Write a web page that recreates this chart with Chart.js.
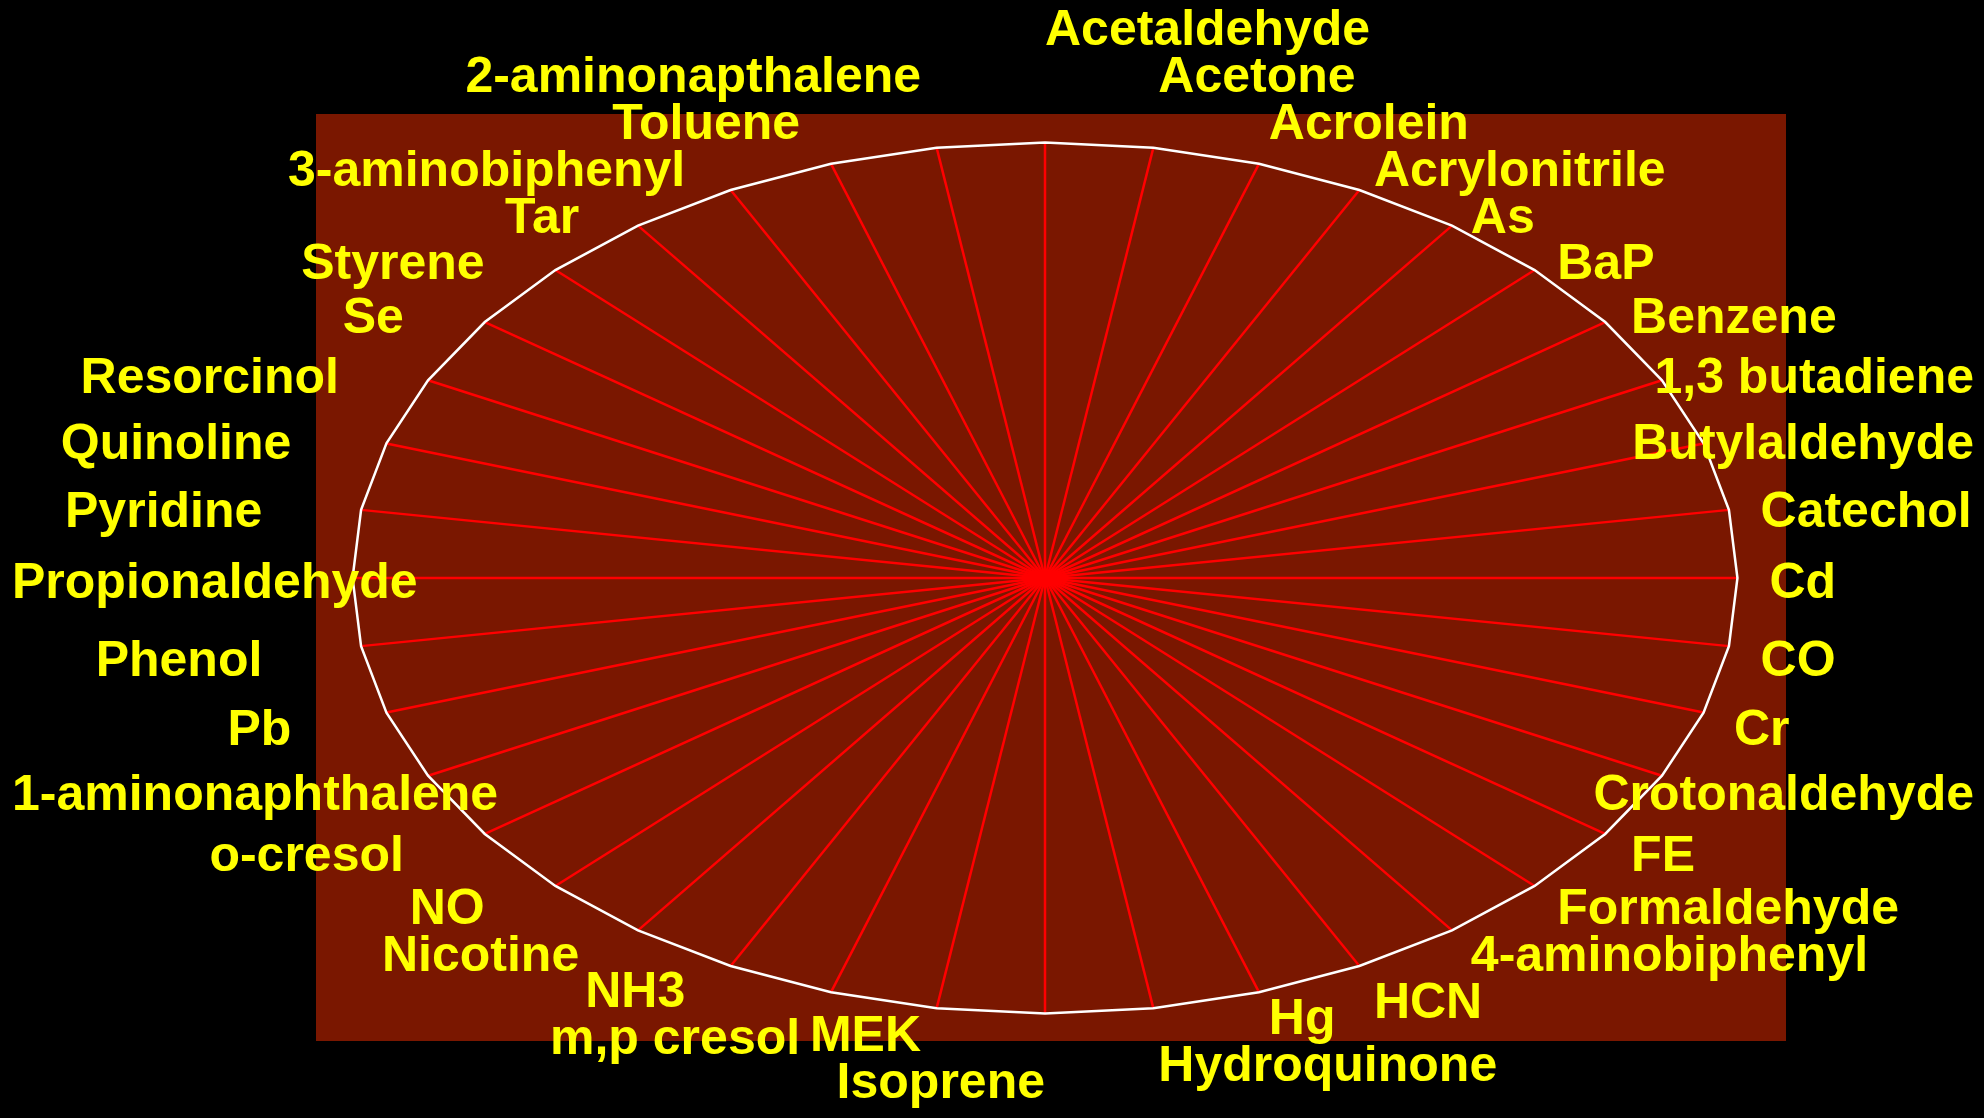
<!DOCTYPE html>
<html>
<head>
<meta charset="utf-8">
<script src="https://cdn.jsdelivr.net/npm/chart.js@4/dist/chart.umd.min.js"></script>
<style>
  html, body { margin: 0; padding: 0; background: #000; }
  canvas { display: block; }
</style>
</head>
<body>
<canvas id="radarChart" width="1984" height="1118"></canvas>
<script>
// Categories, clockwise from the top
var compounds = [
    "Acetaldehyde", "Acetone", "Acrolein", "Acrylonitrile", "As", "BaP", "Benzene",
    "1,3 butadiene", "Butylaldehyde", "Catechol", "Cd", "CO", "Cr", "Crotonaldehyde",
    "FE", "Formaldehyde", "4-aminobiphenyl", "HCN", "Hg", "Hydroquinone", "Isoprene",
    "MEK", "m,p cresol", "NH3", "Nicotine", "NO", "o-cresol", "1-aminonaphthalene",
    "Pb", "Phenol", "Propionaldehyde", "Pyridine", "Quinoline", "Resorcinol", "Se",
    "Styrene", "Tar", "3-aminobiphenyl", "Toluene", "2-aminonapthalene"
];

// Series: every compound sits on the outer ring
var levels = [
    1, 1, 1, 1, 1, 1, 1, 1, 1, 1,
    1, 1, 1, 1, 1, 1, 1, 1, 1, 1,
    1, 1, 1, 1, 1, 1, 1, 1, 1, 1,
    1, 1, 1, 1, 1, 1, 1, 1, 1, 1
];

var scaleMin = 0;
var scaleMax = 1;

// Layout / style
var X_STRETCH = 1.59;      // ellipse: horizontal radius / vertical radius
var RING_INSET = 28;       // gap between plot area top and the ring
var CENTER_SHIFT_X = -6;
var LABEL_PAD = 15;        // label anchor distance outside the ring
var LABEL_GAP_RIGHT = 32;
var LABEL_GAP_LEFT = 100;
var LABEL_LINE = 47;       // minimum vertical distance between labels
var labelFont = "bold 50px 'Liberation Sans', Arial, sans-serif";

// Radial scale drawn as an ellipse instead of a circle
class EllipseScale extends Chart.RadialLinearScale {
    static id = "ellipseRadial";
    static defaults = Chart.RadialLinearScale.defaults;

    setCenterPoint() {
        this.xCenter = Math.round(this.left + this.width / 2) + CENTER_SHIFT_X;
        this.yCenter = Math.round(this.top + this.height / 2);
        this.drawingArea = this.height / 2 - RING_INSET;
    }

    getPointPosition(index, distanceFromCenter, additionalAngle) {
        var angle = this.getIndexAngle(index) - Math.PI / 2 + (additionalAngle || 0);
        return {
            x: Math.cos(angle) * distanceFromCenter * X_STRETCH + this.xCenter,
            y: Math.sin(angle) * distanceFromCenter + this.yCenter,
            angle: angle
        };
    }
}
Chart.register(EllipseScale);

// Dark red plot area behind the ring
var plotAreaBg = {
    id: "plotAreaBg",
    beforeDraw: function (chart) {
        var a = chart.chartArea;
        var ctx = chart.ctx;
        ctx.save();
        ctx.fillStyle = "#7a1700";
        ctx.fillRect(a.left, a.top, a.right - a.left, a.bottom - a.top);
        ctx.restore();
    }
};

// Category labels: anchored at each spoke end, left/right aligned by side,
// kept inside the canvas and pushed apart vertically when they collide
var compoundLabels = {
    id: "compoundLabels",
    afterDraw: function (chart) {
        var scale = chart.scales.r;
        var ctx = chart.ctx;
        var W = chart.width, H = chart.height;
        ctx.save();
        ctx.font = labelFont;

        var items = chart.data.labels.map(function (label, i) {
            var tip = scale.getPointPosition(i, scale.drawingArea);
            var anchor = scale.getPointPosition(i, scale.drawingArea + LABEL_PAD);
            var a = scale.getIndexAngle(i);
            var w = ctx.measureText(label).width;
            var s = Math.sin(a);
            var left;
            if (a < Math.PI - 1e-6) {
                left = tip.x + LABEL_GAP_RIGHT * s;
            } else {
                left = tip.x + LABEL_GAP_LEFT * s - w;
            }
            left = Math.max(12, Math.min(W - 10 - w, left));
            var y = anchor.y + (anchor.y > scale.yCenter ? 14 : 6);
            return {
                text: label, left: left, right: left + w, y: y, y0: y,
                dir: y < scale.yCenter ? -1 : 1
            };
        });

        var order = items.slice().sort(function (p, q) {
            return Math.abs(p.y0 - scale.yCenter) - Math.abs(q.y0 - scale.yCenter);
        });
        var placed = [];
        order.forEach(function (it) {
            var moved = true;
            while (moved) {
                moved = false;
                for (var j = 0; j < placed.length; j++) {
                    var p = placed[j];
                    var hOverlap = it.left < p.right + 6 && it.right > p.left - 6;
                    if (hOverlap && Math.abs(it.y - p.y) < LABEL_LINE - 0.5) {
                        it.y = p.y + it.dir * LABEL_LINE;
                        moved = true;
                    }
                }
            }
            placed.push(it);
        });

        ctx.fillStyle = "#ffff00";
        ctx.textAlign = "left";
        ctx.textBaseline = "middle";
        items.forEach(function (it) {
            var y = Math.max(30, Math.min(H - 27, it.y));
            ctx.fillText(it.text, it.left, y);
        });
        ctx.restore();
    }
};

var ctx = document.getElementById("radarChart").getContext("2d");
var radarChart = new Chart(ctx, {
    type: "radar",
    data: {
        labels: compounds,
        datasets: [{
            label: "Level",
            data: levels,
            borderColor: "#ffffff",
            borderWidth: 2.5,
            fill: false,
            pointRadius: 0,
            pointHoverRadius: 0,
            tension: 0
        }]
    },
    options: {
        responsive: false,
        animation: false,
        layout: {
            padding: { left: 316, top: 114, right: 198, bottom: 77 }
        },
        plugins: {
            legend: { display: false },
            tooltip: { enabled: false }
        },
        scales: {
            r: {
                type: "ellipseRadial",
                min: scaleMin,
                max: scaleMax,
                ticks: { display: false },
                grid: { display: false },
                pointLabels: { display: false },
                angleLines: {
                    display: true,
                    color: "#ff0000",
                    lineWidth: 2.5
                }
            }
        }
    },
    plugins: [plotAreaBg, compoundLabels]
});
</script>
</body>
</html>
